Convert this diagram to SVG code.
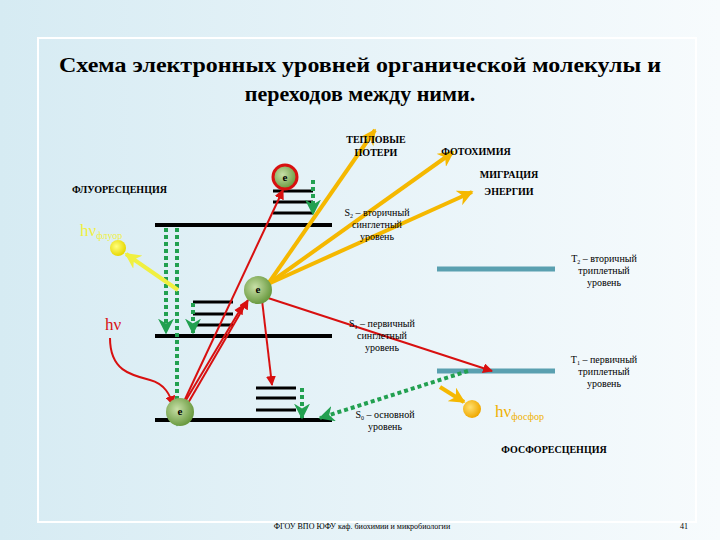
<svg xmlns="http://www.w3.org/2000/svg" width="720" height="540" viewBox="0 0 720 540">
<defs>
<linearGradient id="bg" x1="0" y1="0" x2="1" y2="0"><stop offset="0" stop-color="#d6ebf3"/><stop offset="1" stop-color="#f7fbfd"/></linearGradient>
<radialGradient id="eg" cx="0.4" cy="0.4" r="0.6"><stop offset="0" stop-color="#c8e0a8"/><stop offset="1" stop-color="#6a9a40"/></radialGradient>
<radialGradient id="yg" cx="0.4" cy="0.4" r="0.6"><stop offset="0" stop-color="#ffff80"/><stop offset="1" stop-color="#e8d800"/></radialGradient>
<radialGradient id="og" cx="0.4" cy="0.4" r="0.6"><stop offset="0" stop-color="#ffe070"/><stop offset="1" stop-color="#f0a800"/></radialGradient>
<marker id="ar" viewBox="0 0 10 10" refX="9" refY="5" markerWidth="5" markerHeight="5" orient="auto"><path d="M0,0L10,5L0,10z" fill="#d81010"/></marker>
<marker id="ay" viewBox="0 0 10 10" refX="9" refY="5" markerWidth="4" markerHeight="4" orient="auto"><path d="M0,0L10,5L0,10L3,5z" fill="#f5b800"/></marker>
<marker id="al" viewBox="0 0 10 10" refX="9" refY="5" markerWidth="4" markerHeight="4" orient="auto"><path d="M0,0L10,5L0,10L3,5z" fill="#f0f040"/></marker>
<marker id="ag" viewBox="0 0 10 10" refX="9" refY="5" markerWidth="4" markerHeight="4" orient="auto"><path d="M0,0L10,5L0,10L3,5z" fill="#22a050"/></marker>
<style>
.t{font-family:"Liberation Serif",serif;fill:#000}
.lv{stroke:#000;stroke-width:4}
.sl{stroke:#000;stroke-width:3}
.tr{stroke:#5aa0b0;stroke-width:5}
.r{stroke:#d81010;stroke-width:2;fill:none;marker-end:url(#ar)}
.y{stroke:#f5b800;stroke-width:4;fill:none;marker-end:url(#ay)}
.g{stroke:#22a050;stroke-width:4;stroke-dasharray:4 3;fill:none;marker-end:url(#ag)}
</style>
</defs>
<rect width="720" height="540" fill="url(#bg)"/>
<rect x="38" y="38" width="658" height="484" fill="none" stroke="#fff" stroke-width="2"/>
<text class="t" x="360" y="72" text-anchor="middle" font-size="22" font-weight="bold" textLength="602" lengthAdjust="spacingAndGlyphs">Схема электронных уровней органической молекулы и</text>
<text class="t" x="360" y="101" text-anchor="middle" font-size="22" font-weight="bold">переходов между ними.</text>
<g id="levels">
<line class="lv" x1="155" y1="225" x2="332" y2="225"/>
<line class="sl" x1="273" y1="191" x2="313" y2="191"/><line class="sl" x1="273" y1="202" x2="313" y2="202"/><line class="sl" x1="273" y1="213" x2="313" y2="213"/>
<line class="lv" x1="155" y1="336" x2="332" y2="336"/>
<line class="sl" x1="193" y1="302" x2="233" y2="302"/><line class="sl" x1="193" y1="314" x2="233" y2="314"/><line class="sl" x1="193" y1="325" x2="233" y2="325"/>
<line class="lv" x1="155" y1="420" x2="332" y2="420"/>
<line class="sl" x1="256" y1="388" x2="296" y2="388"/><line class="sl" x1="256" y1="398" x2="296" y2="398"/><line class="sl" x1="256" y1="410" x2="296" y2="410"/>
<line class="tr" x1="437" y1="269" x2="555" y2="269"/>
<line class="tr" x1="437" y1="371" x2="555" y2="371"/>
</g>
<g id="connectors">
<line class="g" x1="166" y1="228" x2="166" y2="333"/>
<line class="g" x1="177" y1="228" x2="177" y2="425"/>
<line class="g" x1="193" y1="303" x2="193" y2="333"/>
<line class="g" x1="313" y1="180" x2="313" y2="214"/>
<line class="g" x1="302" y1="388" x2="302" y2="418"/>
<line class="g" x1="468" y1="371" x2="320" y2="418"/>
<line class="r" x1="180" y1="410" x2="283" y2="190"/>
<line class="r" x1="180" y1="410" x2="243" y2="305"/>
<line class="r" x1="184" y1="410" x2="248" y2="300"/>
<line class="r" x1="262" y1="300" x2="272" y2="385"/>
<line class="r" x1="265" y1="297" x2="492" y2="371"/>
<path class="r" d="M110,338 C110,370 130,375 150,380 C165,384 170,395 173,405"/>
<line class="y" x1="268" y1="284" x2="375" y2="130"/>
<line class="y" x1="268" y1="284" x2="453" y2="152"/>
<line class="y" x1="268" y1="284" x2="472" y2="192"/>
<line stroke="#f0f040" stroke-width="4" marker-end="url(#al)" x1="178" y1="290" x2="126" y2="254"/>
<line class="y" x1="440" y1="387" x2="464" y2="402"/>
</g>
<g id="electrons">
<circle cx="285" cy="177" r="12" fill="url(#eg)" stroke="#d81010" stroke-width="3"/>
<text class="t" x="285" y="181" text-anchor="middle" font-size="11" font-weight="bold">e</text>
<circle cx="258" cy="290" r="14" fill="url(#eg)"/>
<text class="t" x="258" y="293" text-anchor="middle" font-size="11" font-weight="bold">e</text>
<circle cx="180" cy="412" r="14" fill="url(#eg)"/>
<text class="t" x="180" y="415" text-anchor="middle" font-size="11" font-weight="bold">e</text>
<circle cx="118" cy="248" r="8" fill="url(#yg)"/>
<circle cx="472" cy="409" r="9" fill="url(#og)"/>
</g>
<g id="labels" font-size="10">
<text class="t" x="376" y="143" text-anchor="middle" font-weight="bold">ТЕПЛОВЫЕ</text>
<text class="t" x="376" y="156" text-anchor="middle" font-weight="bold">ПОТЕРИ</text>
<text class="t" x="476" y="155" text-anchor="middle" font-weight="bold">ФОТОХИМИЯ</text>
<text class="t" x="509" y="178" text-anchor="middle" font-weight="bold">МИГРАЦИЯ</text>
<text class="t" x="509" y="195" text-anchor="middle" font-weight="bold">ЭНЕРГИИ</text>
<text class="t" x="72" y="193" font-weight="bold">ФЛУОРЕСЦЕНЦИЯ</text>
<text class="t" x="377" y="216" text-anchor="middle">S<tspan font-size="6" dy="2">2</tspan><tspan dy="-2"> – вторичный</tspan></text>
<text class="t" x="377" y="228" text-anchor="middle">синглетный</text>
<text class="t" x="377" y="240" text-anchor="middle">уровень</text>
<text class="t" x="604" y="262" text-anchor="middle">T<tspan font-size="6" dy="2">2</tspan><tspan dy="-2"> – вторичный</tspan></text>
<text class="t" x="604" y="274" text-anchor="middle">триплетный</text>
<text class="t" x="604" y="286" text-anchor="middle">уровень</text>
<text class="t" x="382" y="327" text-anchor="middle">S<tspan font-size="6" dy="2">1</tspan><tspan dy="-2"> – первичный</tspan></text>
<text class="t" x="382" y="339" text-anchor="middle">синглетный</text>
<text class="t" x="382" y="351" text-anchor="middle">уровень</text>
<text class="t" x="604" y="363" text-anchor="middle">T<tspan font-size="6" dy="2">1</tspan><tspan dy="-2"> – первичный</tspan></text>
<text class="t" x="604" y="375" text-anchor="middle">триплетный</text>
<text class="t" x="604" y="387" text-anchor="middle">уровень</text>
<text class="t" x="385" y="418" text-anchor="middle">S<tspan font-size="6" dy="2">0</tspan><tspan dy="-2"> – основной</tspan></text>
<text class="t" x="385" y="430" text-anchor="middle">уровень</text>
<text class="t" x="554" y="453" text-anchor="middle" font-weight="bold">ФОСФОРЕСЦЕНЦИЯ</text>
<text x="80" y="236" font-family="Liberation Serif,serif" font-size="17" fill="#f0f040">hν<tspan font-size="10" dy="3">флуор</tspan></text>
<text x="105" y="330" font-family="Liberation Serif,serif" font-size="17" fill="#d81010">hν</text>
<text x="495" y="417" font-family="Liberation Serif,serif" font-size="17" fill="#f0b000">hν<tspan font-size="10" dy="3">фосфор</tspan></text>
<text class="t" x="362" y="529" text-anchor="middle" font-size="8">ФГОУ ВПО ЮФУ каф. биохимии и микробиологии</text>
<text class="t" x="684" y="529" text-anchor="middle" font-size="8">41</text>
</g>
</svg>
